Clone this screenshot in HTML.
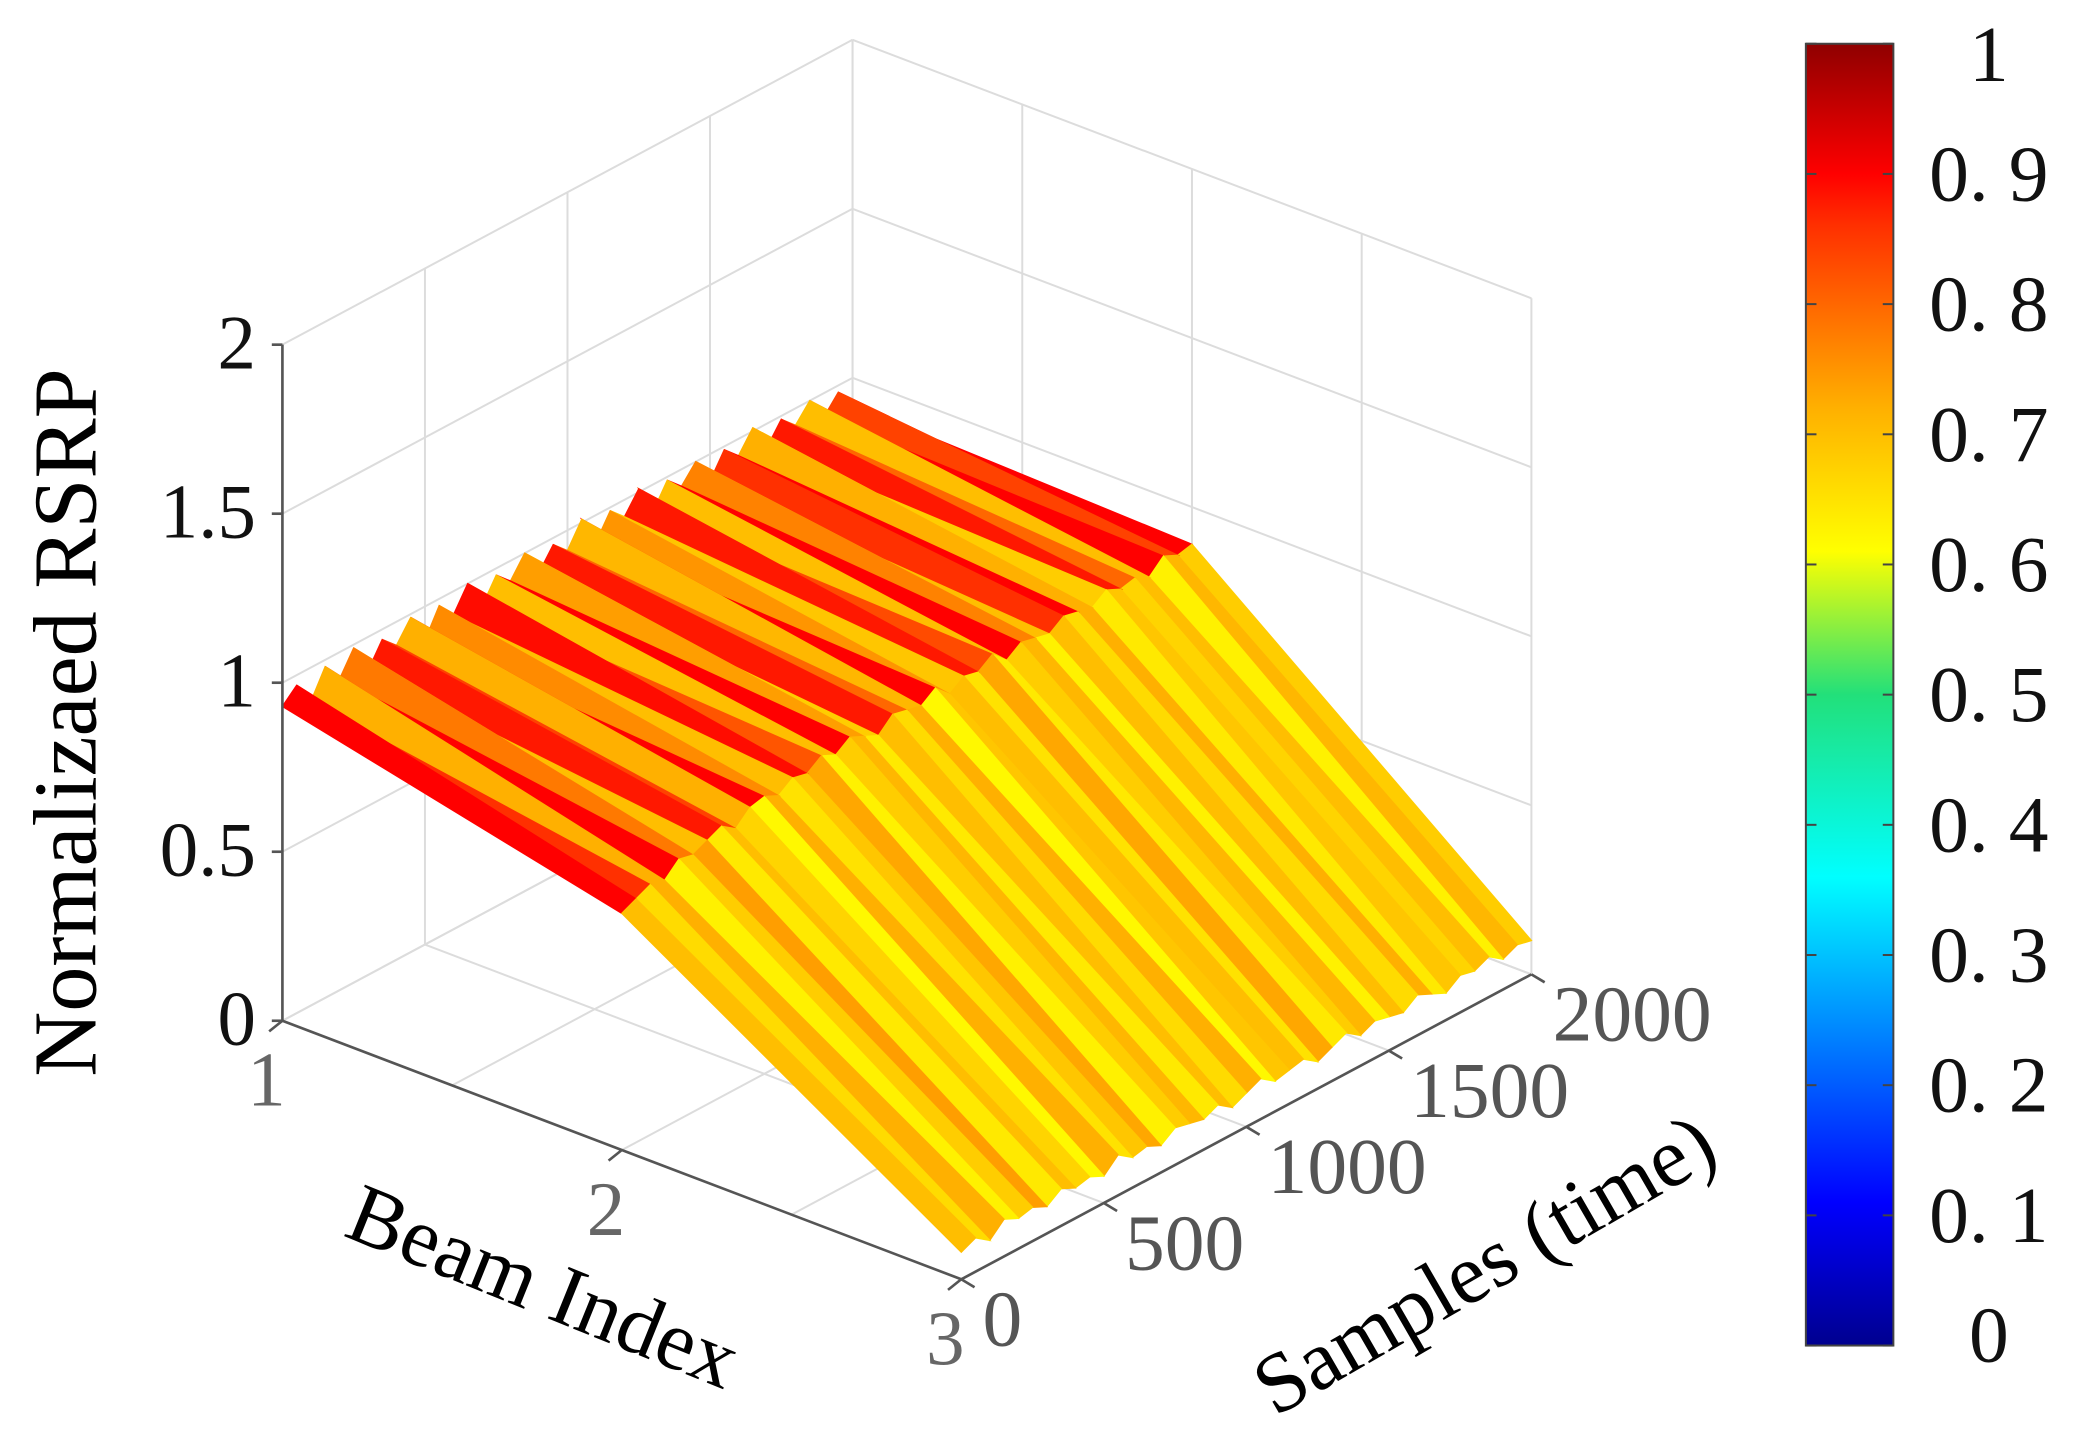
<!DOCTYPE html>
<html><head><meta charset="utf-8"><style>
html,body{margin:0;padding:0;background:#fff;}
svg{display:block;}
text{font-family:"Liberation Serif","Noto Serif CJK SC",serif;}
</style></head><body>
<svg id="chart" width="2079" height="1441" viewBox="0 0 1568 1087" preserveAspectRatio="none" xmlns="http://www.w3.org/2000/svg">
<defs>
<linearGradient id="jet" x1="0" y1="1" x2="0" y2="0">
<stop offset="0" stop-color="#00008f"/><stop offset="0.11" stop-color="#0000ff"/>
<stop offset="0.36" stop-color="#00ffff"/><stop offset="0.5" stop-color="#22e07a"/>
<stop offset="0.61" stop-color="#ffff00"/><stop offset="0.72" stop-color="#ffb000"/>
<stop offset="0.86" stop-color="#ff3000"/><stop offset="0.9" stop-color="#ff0000"/>
<stop offset="1" stop-color="#8f0000"/>
</linearGradient>
</defs>
<g id="grid"></g>
<g id="surf"></g>
<g id="axes"></g>
<text x="0" y="0" font-size="68" text-anchor="middle" transform="translate(72,545) rotate(-90)">Normalizaed RSRP</text>
<text x="0" y="0" font-size="64" text-anchor="middle" transform="translate(402,990) rotate(22)">Beam Index</text>
<text x="0" y="0" font-size="64" text-anchor="middle" transform="translate(1130,972) rotate(-30)">Samples (time)</text>
<rect x="1362" y="33" width="66" height="982" fill="url(#jet)" stroke="#444" stroke-width="1.5"/>
<g id="cbar"></g>
</svg>
<script>
const NS="http://www.w3.org/2000/svg";
const samples=[0,50,100,150,200,250,300,350,400,450,500,550,600,650,700,750,800,850,900,950,1000,1050,1100,1150,1200,1250,1300,1350,1400,1450,1500,1550,1600,1650,1700,1750,1800,1850,1900,1950,2000];
const beam1=[0.93,0.97,0.9,0.98,0.92,0.99,0.9,0.97,0.93,0.99,0.9,0.98,0.93,1.0,0.91,0.98,0.94,1.0,0.92,0.98,0.94,1.01,0.92,0.99,0.95,1.01,0.92,0.99,0.95,1.0,0.92,0.99,0.95,1.01,0.93,0.99,0.95,1.0,0.93,0.98,0.92];
const beam2=[0.7,0.72,0.74,0.73,0.77,0.76,0.78,0.8,0.77,0.81,0.82,0.8,0.83,0.82,0.85,0.83,0.86,0.84,0.82,0.86,0.85,0.84,0.87,0.83,0.86,0.85,0.88,0.84,0.87,0.86,0.85,0.88,0.87,0.86,0.89,0.87,0.88,0.86,0.9,0.88,0.89];
const beam3=[0.08,0.1,0.07,0.11,0.09,0.1,0.08,0.11,0.09,0.1,0.08,0.12,0.09,0.1,0.08,0.11,0.1,0.09,0.11,0.08,0.1,0.12,0.09,0.1,0.11,0.08,0.1,0.12,0.09,0.11,0.1,0.09,0.12,0.1,0.08,0.11,0.1,0.12,0.09,0.11,0.1];
const color12=[0.9,0.86,0.72,0.9,0.78,0.7,0.88,0.84,0.72,0.9,0.76,0.7,0.89,0.82,0.7,0.9,0.74,0.68,0.88,0.8,0.71,0.9,0.75,0.69,0.88,0.83,0.7,0.9,0.77,0.7,0.86,0.9,0.72,0.68,0.88,0.8,0.7,0.9,0.84,0.9,0.88];
const color23=[0.7,0.66,0.72,0.63,0.68,0.74,0.64,0.7,0.67,0.62,0.72,0.65,0.69,0.73,0.63,0.68,0.71,0.64,0.7,0.66,0.72,0.62,0.69,0.7,0.65,0.73,0.64,0.68,0.71,0.63,0.7,0.66,0.72,0.64,0.69,0.67,0.7,0.63,0.71,0.68,0.7];
const zTicks=[0,0.5,1,1.5,2];
const zTickLabels=["0","0.5","1","1.5","2"];
const beamTicks=[1,2,3];
const sampleTicks=[0,500,1000,1500,2000];
const cbarTicks=[0,0.1,0.2,0.3,0.4,0.5,0.6,0.7,0.8,0.9,1];
const cbarLabels=["0","0. 1","0. 2","0. 3","0. 4","0. 5","0. 6","0. 7","0. 8","0. 9","1"];

function P(b,s,z){return [213+(b-1)*256+s/2000*430, 770+(b-1)*97.5-s/2000*230-z*255];}
function jet(v){
  const st=[[0,[0,0,143]],[0.11,[0,0,255]],[0.36,[0,255,255]],[0.5,[34,224,122]],[0.61,[255,255,0]],[0.72,[255,176,0]],[0.86,[255,48,0]],[0.9,[255,0,0]],[1,[143,0,0]]];
  for(let i=1;i<st.length;i++){if(v<=st[i][0]){const a=st[i-1],b=st[i],t=(v-a[0])/(b[0]-a[0]);
    return 'rgb('+a[1].map((c,k)=>Math.round(c+(b[1][k]-c)*t)).join(',')+')';}}
  return 'rgb(143,0,0)';
}
function line(g,a,b,stroke,w){const l=document.createElementNS(NS,'line');
  l.setAttribute('x1',a[0]);l.setAttribute('y1',a[1]);l.setAttribute('x2',b[0]);l.setAttribute('y2',b[1]);
  l.setAttribute('stroke',stroke);l.setAttribute('stroke-width',w);g.appendChild(l);return l;}
function txt(g,x,y,s,size,fill,anchor){const t=document.createElementNS(NS,'text');
  t.setAttribute('x',x);t.setAttribute('y',y);t.setAttribute('font-size',size);t.setAttribute('fill',fill);
  t.setAttribute('text-anchor',anchor);t.textContent=s;g.appendChild(t);return t;}

const grid=document.getElementById('grid');
const gc='#dcdcdc';
zTicks.forEach(z=>{
  let l=line(grid,P(1,0,z),P(1,2000,z),gc,1.5);
  
  
  l=line(grid,P(1,2000,z),P(3,2000,z),gc,1.5);
  
  
});
sampleTicks.forEach(s=>{
  let l=line(grid,P(1,s,0),P(1,s,2),gc,1.5);
  
  
  l=line(grid,P(1,s,0),P(3,s,0),gc,1.5);
  
  
});
[1,1.5,2,2.5,3].forEach(b=>{
  let l=line(grid,P(b,2000,0),P(b,2000,2),gc,1.5);
  
  
  l=line(grid,P(b,0,0),P(b,2000,0),gc,1.5);
  
  
});

const surf=document.getElementById('surf');
function quad(pts,col,name){const p=document.createElementNS(NS,'polygon');
  p.setAttribute('points',pts.map(q=>q.join(',')).join(' '));
  p.setAttribute('fill',col);p.setAttribute('stroke',col);p.setAttribute('stroke-width','1');
  
  
  surf.appendChild(p);}
for(let i=samples.length-2;i>=0;i--){
  const s0=samples[i],s1=samples[i+1];
  quad([P(1,s0,beam1[i]),P(1,s1,beam1[i+1]),P(2,s1,beam2[i+1]),P(2,s0,beam2[i])],jet(color12[i]),'surface-patch-beam1-2');
  quad([P(2,s0,beam2[i]),P(2,s1,beam2[i+1]),P(3,s1,beam3[i+1]),P(3,s0,beam3[i])],jet(color23[i]),'surface-patch-beam2-3');
}

const ax=document.getElementById('axes');
let a=line(ax,P(1,0,0),P(1,0,2),'#555',2);


a=line(ax,P(1,0,0),P(3,0,0),'#555',2);


a=line(ax,P(3,0,0),P(3,2000,0),'#555',2);


zTicks.forEach((z,i)=>{const p=P(1,0,z);
  line(ax,[p[0]-8,p[1]],p,'#555',2);
  const t=txt(ax,p[0]-20,p[1]+18,zTickLabels[i],58,'#111','end');
  
  
});
beamTicks.forEach(b=>{const p=P(b,0,0);
  line(ax,p,[p[0]-10,p[1]+8],'#555',2);
  const t=txt(ax,p[0]-12,p[1]+64,String(b),58,'#666','middle');
  
  
});
sampleTicks.forEach(s=>{const p=P(3,s,0);
  line(ax,p,[p[0]+10,p[1]+6],'#555',2);
  const t=txt(ax,p[0]+16,p[1]+50,String(s),60,'#555','start');
  
  
});

const cb=document.getElementById('cbar');
cbarTicks.forEach((v,i)=>{const y=1015-v*982;
  line(cb,[1362,y],[1370,y],'#444',1.5);line(cb,[1420,y],[1428,y],'#444',1.5);
  const t=txt(cb,v===0||v===1?1500:1455,y+20+(v===1?8:0)-(v===0?8:0),cbarLabels[i],60,'#111',v===0||v===1?'middle':'start');
  
  
});
</script>
</body></html>
